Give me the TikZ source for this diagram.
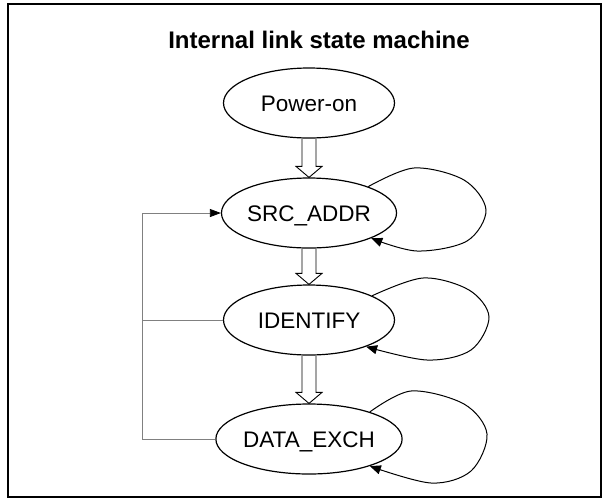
\documentclass[tikz,border=0pt]{standalone}
\usepackage{fontspec}
\setmainfont{Liberation Sans}
\usetikzlibrary{arrows.meta,shapes.geometric}
\newcommand\hollowdown[2]{%
  \draw[blockarrow] ([xshift=-7pt]#1.south) -- ([xshift=-7pt,yshift=11pt]#2.north)
    -- ([xshift=-13pt,yshift=11pt]#2.north) -- (#2.north)
    -- ([xshift=13pt,yshift=11pt]#2.north) -- ([xshift=7pt,yshift=11pt]#2.north)
    -- ([xshift=7pt]#1.south);}
\begin{document}
\begin{tikzpicture}[x=1pt,y=-1pt,
  state/.style={ellipse, draw, line width=1.2pt, minimum width=171pt, minimum height=70pt,
    inner sep=0pt, font=\fontsize{22.5}{27}\selectfont, text height=16pt, text depth=0pt},
  blockarrow/.style={draw, line width=0.9pt, line join=miter},
  selfloop/.style={line width=1pt, -{Triangle[length=11pt,width=9pt]}},
  backlink/.style={draw=gray, line width=0.8pt},
]
\useasboundingbox (0,0) rectangle (607,499);
\draw[line width=2pt] (7.5,4) rectangle (600.5,497);
\node[font=\bfseries\fontsize{24}{28}\selectfont] (title) at (319,40) {Internal link state machine};
\node[state] (pwr) at (309,103) {Power-on};
\node[state] (src) at (309,213) {SRC\_ADDR};
\node[state] (idf) at (309,320) {IDENTIFY};
\node[state] (dx) at (309,439) {DATA\_EXCH};
\hollowdown{pwr}{src}
\hollowdown{src}{idf}
\hollowdown{idf}{dx}
\coordinate (busTop) at (142,213);
\coordinate (busBot) at (142,439);
\draw[backlink] (dx.west) -- (busBot) -- (busTop);
\draw[backlink] (idf.west) -- (idf.west -| busTop);
\draw[backlink, -{Triangle[length=11pt,width=8pt,color=black]}] (busTop) -- (src.west);
\draw[selfloop] plot[smooth, tension=0.55] coordinates {(src.24) ([shift={(105,-45)}]src.center) ([shift={(155,-33)}]src.center) ([shift={(177,-3)}]src.center) ([shift={(158,28)}]src.center) ([shift={(108,38)}]src.center) (src.-22)};
\draw[selfloop] plot[smooth, tension=0.55] coordinates {(idf.21) ([shift={(114,-42)}]idf.center) ([shift={(160,-30)}]idf.center) ([shift={(180,-3)}]idf.center) ([shift={(162,30)}]idf.center) ([shift={(118,40)}]idf.center) (idf.-25)};
\draw[selfloop] plot[smooth, tension=0.55] coordinates {(dx.24) ([shift={(102,-48)}]dx.center) ([shift={(155,-35)}]dx.center) ([shift={(178,-5)}]dx.center) ([shift={(162,32)}]dx.center) ([shift={(122,44)}]dx.center) (dx.-24)};
\end{tikzpicture}
\end{document}
